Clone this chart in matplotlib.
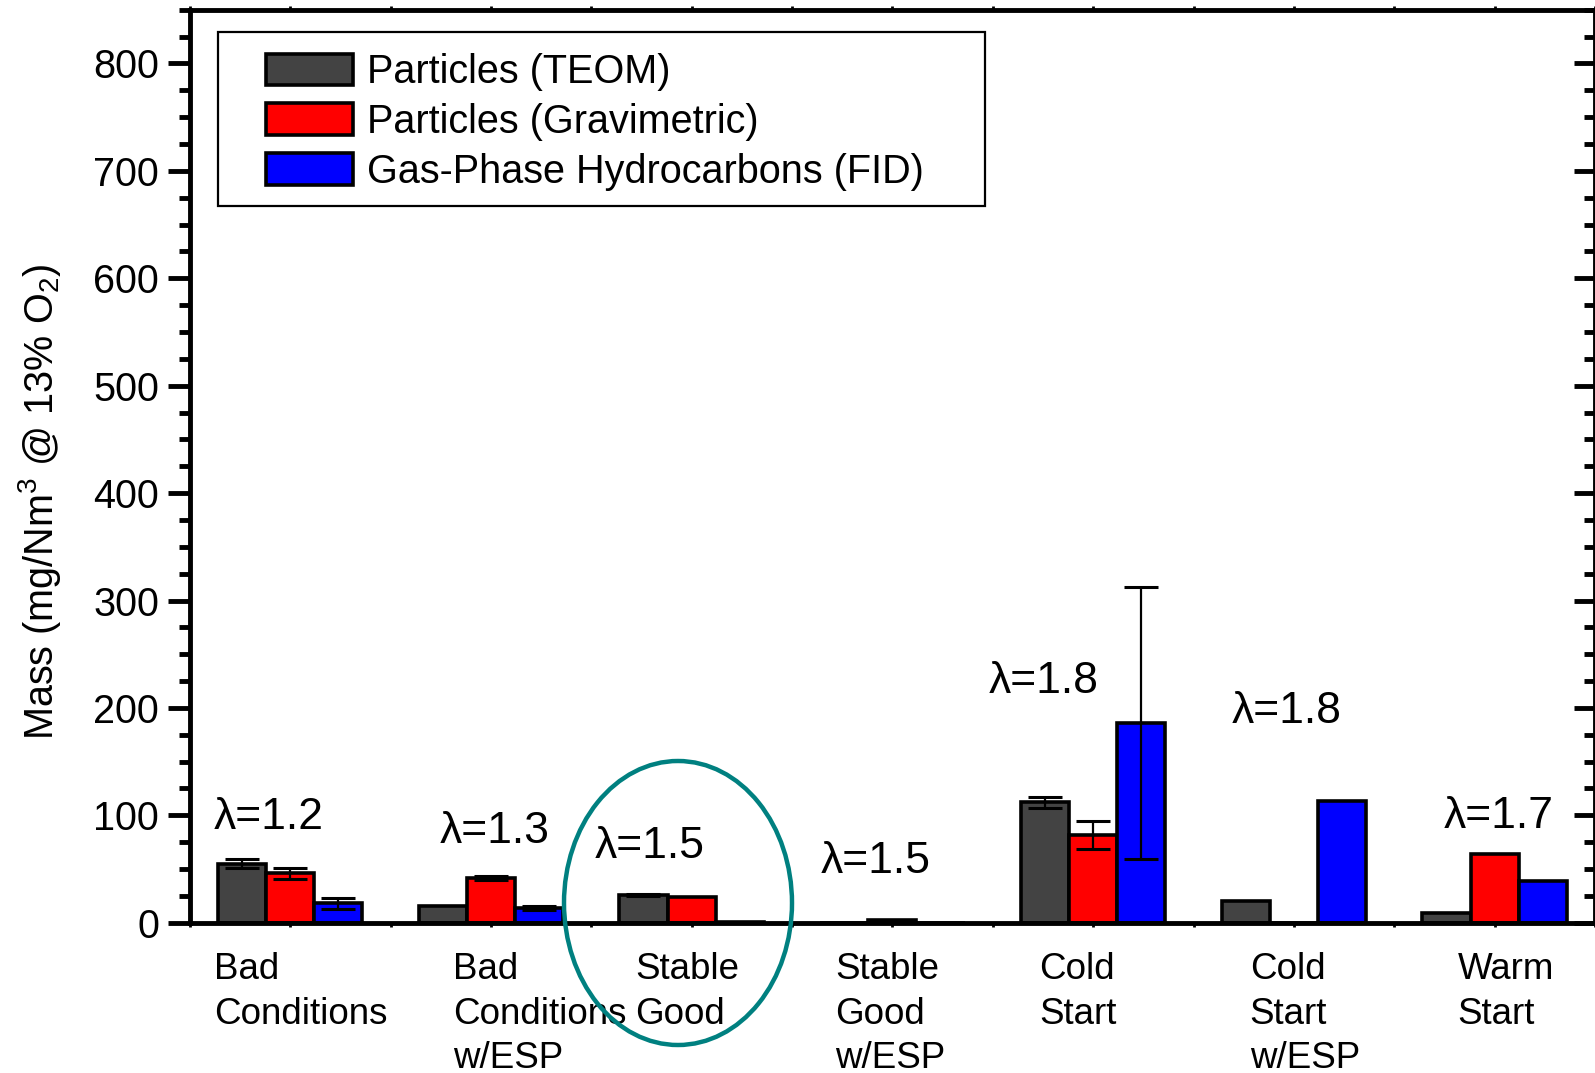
import numpy as np
import matplotlib.pyplot as plt
from matplotlib.patches import Ellipse, Patch, Rectangle
from matplotlib.ticker import MultipleLocator

plt.rcParams['font.family'] = ['Liberation Sans', 'DejaVu Sans']
plt.rcParams['mathtext.fontset'] = 'custom'
plt.rcParams['mathtext.rm'] = 'Liberation Sans'
plt.rcParams['mathtext.it'] = 'Liberation Sans'

# Data
categories = ['Bad\nConditions', 'Bad\nConditions\nw/ESP', 'Stable\nGood', 'Stable\nGood\nw/ESP',
              'Cold\nStart', 'Cold\nStart\nw/ESP', 'Warm\nStart']
series = ['Particles (TEOM)', 'Particles (Gravimetric)', 'Gas-Phase Hydrocarbons (FID)']
teom = [55, 16, 26, 0, 112, 20, 9]
teom_err = [4, 0, 1, 0, 5, 0, 0]
grav = [46, 42, 24, 2.5, 82, 0, 64]
grav_err = [5, 2, 0, 0, 13, 0, 0]
fid = [18, 14, 1, 0, 186, 113, 39]
fid_err = [5, 2, 0, 0, 127, 0, 0]
lambdas = ['λ=1.2', 'λ=1.3', 'λ=1.5', 'λ=1.5', 'λ=1.8', 'λ=1.8', 'λ=1.7']

colors = ['#434343', '#ff0000', '#0000ff']

fig = plt.figure(figsize=(15.95, 10.73), dpi=100)
ax = fig.add_axes([0.119, 0.140, 0.881, 0.851])

x = np.arange(len(categories))
w = 0.24
for i, (vals, errs) in enumerate([(teom, teom_err), (grav, grav_err), (fid, fid_err)]):
    xi = x + (i - 1) * w
    ax.bar(xi, vals, width=w, color=colors[i], edgecolor='black', linewidth=2.6, zorder=2)
    errs = np.array(errs, dtype=float)
    m = errs > 0
    ax.errorbar(xi[m], np.array(vals)[m], yerr=errs[m], fmt='none', ecolor='black',
                elinewidth=1.6, capsize=12, capthick=2.2, zorder=3)

# lambda labels (left edge x offset from group centre, y in data units)
lam_dx = [-0.38, -0.255, -0.485, -0.355, -0.52, -0.31, -0.255]
lam_y = [98, 85, 71, 57, 225, 197, 99]
for xc, dx, yy, s in zip(x, lam_dx, lam_y, lambdas):
    ax.text(xc + dx, yy, s, fontsize=32, ha='left', va='center')

# category labels below axis
cat_dx = [-0.38, -0.19, -0.28, -0.285, -0.27, -0.22, -0.185]
for xc, dx, s in zip(x, cat_dx, categories):
    ax.text(xc + dx, -0.032, s, transform=ax.get_xaxis_transform(), fontsize=26.5,
            ha='left', va='top', linespacing=1.36)

ax.set_xlim(-0.5, 6.5)
ax.set_ylim(0, 850)
ax.yaxis.set_major_locator(MultipleLocator(100))
ax.yaxis.set_minor_locator(MultipleLocator(25))
ax.xaxis.set_major_locator(MultipleLocator(0.5))
ax.set_xticklabels([])
ax.tick_params(axis='y', which='major', direction='out', length=16, width=3.5, labelsize=28.5, pad=6)
ax.tick_params(axis='y', which='minor', direction='out', length=8, width=3.5)
ax.tick_params(axis='x', which='major', direction='out', length=3, width=2, top=True)
for sp in ax.spines.values():
    sp.set_linewidth(3.5)

# right-hand ticks pointing inwards
ax2 = ax.twinx()
ax2.set_ylim(ax.get_ylim())
ax2.yaxis.set_major_locator(MultipleLocator(100))
ax2.yaxis.set_minor_locator(MultipleLocator(25))
ax2.tick_params(axis='y', which='major', direction='in', length=15, width=3.5, labelright=False)
ax2.tick_params(axis='y', which='minor', direction='in', length=8, width=3.5)
for sp in ax2.spines.values():
    sp.set_visible(False)

ax.set_ylabel('Mass (mg/Nm$^3$ @ 13% O$_2$)', fontsize=28.5)
ax.yaxis.set_label_coords(-0.09, 0.461)

# legend with a separately drawn frame
ax.add_patch(Rectangle((0.020, 0.785), 0.546, 0.190, transform=ax.transAxes, fill=False,
                       edgecolor='black', linewidth=1.6, zorder=5))
handles = [Patch(facecolor=c, edgecolor='black', linewidth=2.6) for c in colors]
leg = ax.legend(handles, series, loc='center left', bbox_to_anchor=(0.0545, 0.877),
                fontsize=28.5, frameon=False, handlelength=2.2, handleheight=0.85,
                labelspacing=0.3, handletextpad=0.35, borderpad=0, borderaxespad=0)

# highlight ellipse around Stable Good
ell = Ellipse((678 / 1595, 1 - 903 / 1073), 228 / 1595, 284 / 1073, transform=fig.transFigure,
              fill=False, edgecolor='#008080', linewidth=3.2, zorder=10)
fig.add_artist(ell)

fig.savefig('out.png', dpi=100)
